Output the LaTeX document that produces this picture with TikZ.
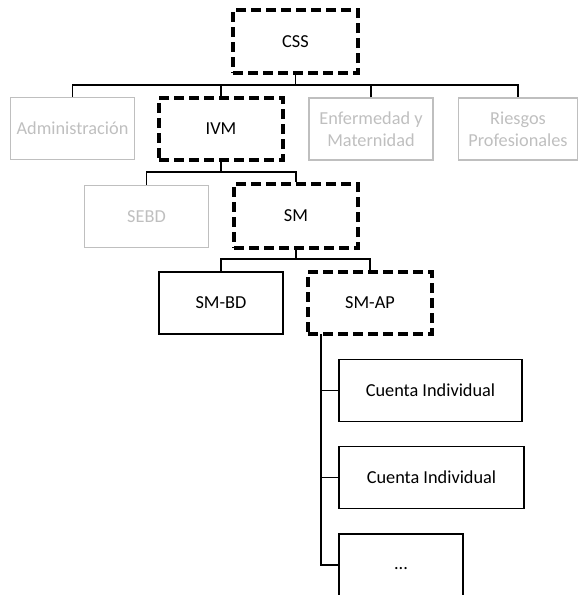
\documentclass[tikz,border=0pt]{standalone}
\usepackage{fontspec}
\setmainfont{Carlito}
\usepackage{tikz}
\usetikzlibrary{positioning,calc}
\definecolor{lightgrey}{HTML}{BFBFBF}
\tikzstyle{box}=[rectangle, draw=black, line width=1.3pt, minimum width=124pt, minimum height=62pt, inner sep=0pt, align=center, font=\fontsize{18.3}{22}\selectfont]
\tikzstyle{greybox}=[box, draw=lightgrey, text=lightgrey]
\tikzstyle{keybox}=[box, line width=3.4pt, dash pattern=on 10pt off 5pt]
\tikzstyle{wire}=[line width=1.3pt]
\begin{document}
\begin{tikzpicture}[x=1pt,y=-1pt]
		\useasboundingbox(0,0)rectangle(578,595);
		\node[keybox,minimum width=125pt,minimum height=63pt](CSS)at(295.5,41.5){CSS};
		\node[greybox](Adm)at(72.5,128.5){Administración};
		\node[keybox](IVM)at(221,129){IVM};
		\node[greybox](Enf)at(371,129){Enfermedad y\\Maternidad};
		\node[greybox,minimum width=119pt](Rie)at(518,129){Riesgos\\Profesionales};
		\node[greybox](SEBD)at(146.5,216.5){SEBD};
		\node[keybox,minimum height=64pt](SM)at(296,216){SM};
		\node[box](SMBD)at(221,303){SM-BD};
		\node[keybox](SMAP)at(370,303){SM-AP};
		\node[box,minimum width=183pt](CI1)at(430.5,390.5){Cuenta Individual};
		\node[box,minimum width=185pt](CI2)at(431.5,477.5){Cuenta Individual};
		\node[box](Dots)at(401,565){\raisebox{-10pt}{...}};
		\coordinate(b1)at(295.5,85);
		\coordinate(b2)at(221,172);
		\coordinate(b3)at(296,259);
		\coordinate(v)at(321,334);
		\draw[wire](CSS)--(b1);
		\draw[wire](Adm.north)|-(b1)-|(Rie.north);
		\draw[wire](IVM.north)--(IVM.north|-b1);
		\draw[wire](Enf.north)--(Enf.north|-b1);
		\draw[wire](IVM)--(b2);
		\draw[wire](SEBD.north)|-(b2)-|(SM.north);
		\draw[wire](SM)--(b3);
		\draw[wire](SMBD.north)|-(b3)-|(SMAP.north);
		\draw[wire](v)|-(Dots.west);
		\draw[wire](v|-CI1)--(CI1.west);
		\draw[wire](v|-CI2)--(CI2.west);
\end{tikzpicture}
\end{document}
